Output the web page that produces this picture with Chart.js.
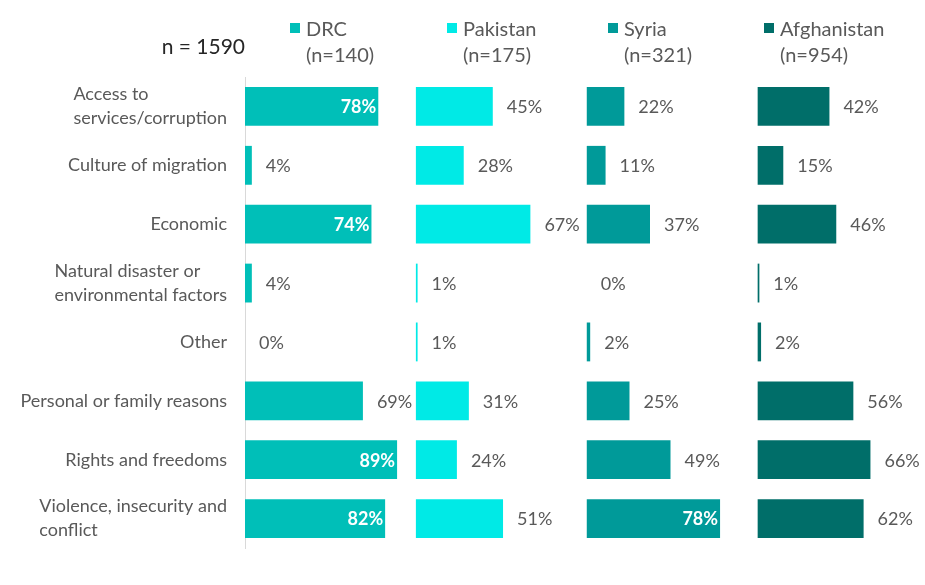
<!DOCTYPE html>
<html>
<head>
<meta charset="utf-8">
<script src="https://cdn.jsdelivr.net/npm/chart.js@4"></script>
<style>
html,body{margin:0;padding:0;background:#fff;}
#wrap{width:925px;height:585px;position:relative;}
</style>
</head>
<body>
<div id="wrap"><canvas id="c" width="925" height="585"></canvas></div>
<script>
const categories = [
  ["Access to", "services/corruption"],
  ["Culture of migration"],
  ["Economic"],
  ["Natural disaster or", "environmental factors"],
  ["Other"],
  ["Personal or family reasons"],
  ["Rights and freedoms"],
  ["Violence, insecurity and", "conflict"]
];
const countries = ["DRC", "Pakistan", "Syria", "Afghanistan"];
const sampleSizes = ["(n=140)", "(n=175)", "(n=321)", "(n=954)"];
const totalLabel = "n = 1590";
const drc =         [78, 4, 74, 4, 0, 69, 89, 82];
const pakistan =    [45, 28, 67, 1, 1, 31, 24, 51];
const syria =       [22, 11, 37, 0, 2, 25, 49, 78];
const afghanistan = [42, 15, 46, 1, 2, 56, 66, 62];
const colors = ["#00BFB8", "#00EAE6", "#009A99", "#006E69"];

const seriesValues = [drc, pakistan, syria, afghanistan];
const PANEL = 100;
const FONT = "Lato";

const datasets = [];
seriesValues.forEach((vals, i) => {
  datasets.push({
    label: countries[i],
    data: vals,
    backgroundColor: colors[i],
    isData: true,
    stack: "s"
  });
  if (i < seriesValues.length - 1) {
    datasets.push({
      label: "spacer" + i,
      data: vals.map(v => PANEL - v),
      backgroundColor: "rgba(0,0,0,0)",
      isData: false,
      stack: "s"
    });
  }
});

const labelPlugin = {
  id: "labels",
  afterDatasetsDraw(chart) {
    const ctx = chart.ctx;
    ctx.save();
    ctx.textBaseline = "middle";
    chart.data.datasets.forEach((ds, di) => {
      if (!ds.isData) return;
      const meta = chart.getDatasetMeta(di);
      meta.data.forEach((bar, j) => {
        const v = ds.data[j];
        const txt = v + "%";
        if (v >= 70) {
          ctx.font = "bold 18px " + FONT;
          ctx.fillStyle = "#ffffff";
          ctx.textAlign = "right";
          ctx.fillText(txt, bar.x - 2, bar.y + 1);
        } else {
          ctx.font = "18px " + FONT;
          ctx.fillStyle = "#595959";
          ctx.textAlign = "left";
          ctx.fillText(txt, bar.x + 14, bar.y + 1);
        }
      });
    });
    ctx.restore();
  },
  afterDraw(chart) {
    const ctx = chart.ctx;
    const ys = chart.scales.y;
    ctx.save();
    // category labels
    ctx.font = "18px " + FONT;
    ctx.fillStyle = "#595959";
    ctx.textBaseline = "middle";
    ctx.textAlign = "left";
    const right = 227;
    const lh = 24;
    categories.forEach((lines, i) => {
      const yc = ys.getPixelForValue(i);
      const w = Math.max(...lines.map(l => ctx.measureText(l).width));
      const x0 = right - w;
      const y0 = yc - (lines.length - 1) * lh / 2;
      lines.forEach((l, k) => ctx.fillText(l, x0, y0 + k * lh));
    });
    // legend
    const legX = [290, 447, 608, 764];
    ctx.font = "20px " + FONT;
    countries.forEach((c, i) => {
      ctx.fillStyle = colors[i];
      ctx.fillRect(legX[i], 23, 10, 10);
      ctx.fillStyle = "#595959";
      ctx.fillText(c, legX[i] + 16, 30);
      ctx.fillText(sampleSizes[i], legX[i] + 16, 56);
    });
    // total n
    ctx.font = "21px " + FONT;
    ctx.fillStyle = "#262626";
    ctx.textAlign = "right";
    ctx.fillText(totalLabel, 245, 47);
    ctx.restore();
  }
};

new Chart(document.getElementById("c"), {
  type: "bar",
  data: { labels: categories, datasets },
  options: {
    indexAxis: "y",
    responsive: false,
    animation: false,
    events: [],
    layout: { padding: { top: 77, bottom: 37, right: 5, left: 0 } },
    datasets: { bar: { categoryPercentage: 1, barPercentage: 0.66 } },
    plugins: { legend: { display: false }, tooltip: { enabled: false } },
    scales: {
      x: { stacked: true, min: 0, max: 395, display: false },
      y: {
        stacked: true,
        afterFit(s) { s.width = 245; },
        ticks: { display: false },
        grid: { display: false, drawTicks: false },
        border: { display: true, color: "#D9D9D9", width: 1 }
      }
    }
  },
  plugins: [labelPlugin]
});
</script>
</body>
</html>
